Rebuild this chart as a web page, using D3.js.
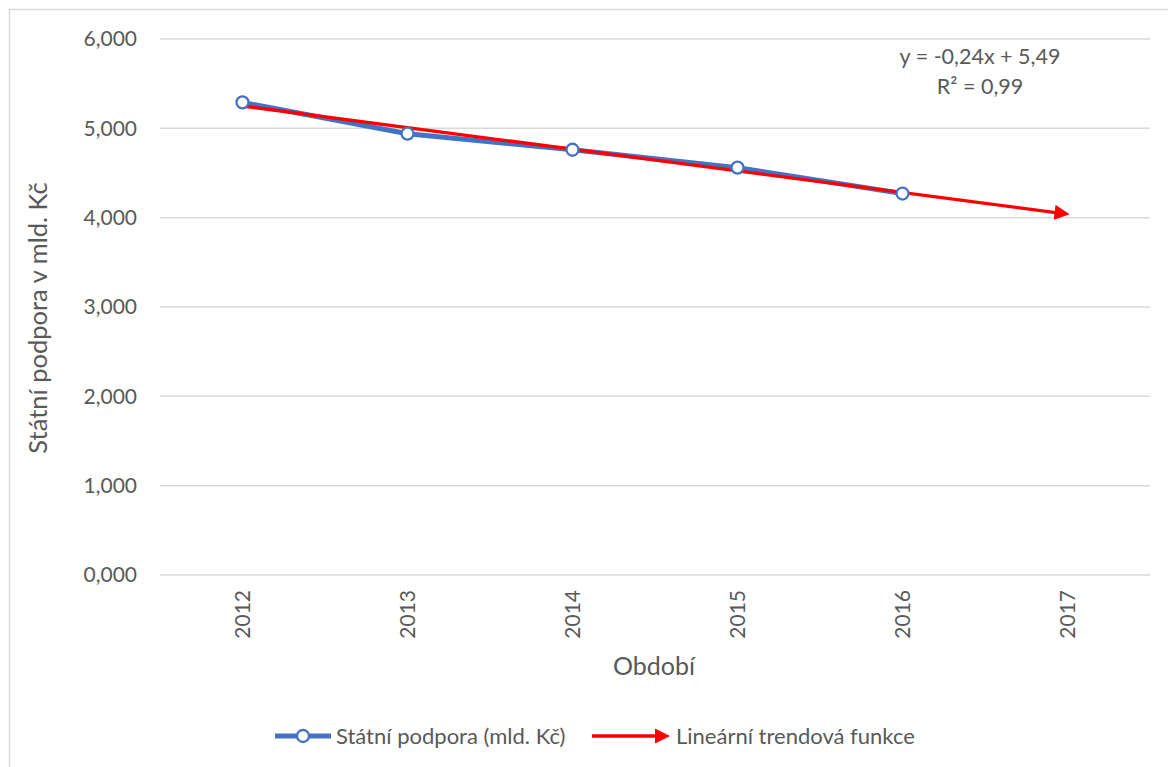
<!DOCTYPE html>
<html><head><meta charset="utf-8">
<script src="https://cdn.jsdelivr.net/npm/d3@7"></script>
<style>body{margin:0;background:#fff}svg{display:block}text{font-family:Lato,"Open Sans",sans-serif}</style>
</head><body>
<svg id="c" width="1168" height="767"></svg>
<script>
const categories = ["2012","2013","2014","2015","2016","2017"];
const dataYears = ["2012","2013","2014","2015","2016"];
const supportValues = [5.29, 4.94, 4.76, 4.56, 4.27];
const trendYears = ["2012","2017"];
const trendValues = [5.25, 4.04];
const yTicks = [0,1,2,3,4,5,6];
const seriesNames = ["Státní podpora (mld. Kč)", "Lineární trendová funkce"];
const equationLines = ["y = -0,24x + 5,49", "R² = 0,99"];

const svg = d3.select("#c");
const gray = "#595959";
svg.append("rect").attr("x",9.5).attr("y",9.5).attr("width",1300).attr("height",900)
  .attr("fill","none").attr("stroke","#d9d9d9").attr("stroke-width",1.5);

const L=160,R=1150,T=39,B=575;
const x = d3.scaleBand().domain(categories).range([L,R]);
const y = d3.scaleLinear().domain([0,6]).range([B,T]);
const fmt = v => d3.format(".3f")(v).replace(".",",");

// grid
svg.append("g").selectAll("line").data(yTicks).join("line")
  .attr("x1",L).attr("x2",R).attr("y1",d=>y(d)).attr("y2",d=>y(d))
  .attr("stroke","#d9d9d9").attr("stroke-width",1.5);

// y axis labels
const yAxis = d3.axisLeft(y).tickValues(yTicks).tickFormat(fmt).tickSize(0).tickPadding(23);
const ga = svg.append("g").attr("transform",`translate(${L},0)`).call(yAxis);
ga.select(".domain").remove();
ga.selectAll("text").attr("fill",gray).style("font-size","21px").style("font-family","Lato,sans-serif");

// x axis labels
const xAxis = d3.axisBottom(x).tickSize(0).tickPadding(0);
const gx = svg.append("g").attr("transform",`translate(0,${B})`).call(xAxis);
gx.select(".domain").remove();
gx.selectAll("text").attr("fill",gray).style("font-size","21px").style("font-family","Lato,sans-serif")
  .attr("transform","rotate(-90)").attr("text-anchor","end").attr("dy","0.35em")
  .attr("x",-15).attr("y",0);

// axis titles
svg.append("text").attr("transform","translate(38,318) rotate(-90)").attr("text-anchor","middle")
  .attr("dy","0.35em").attr("fill",gray).style("font-size","25.5px").text("Státní podpora v mld. Kč");
svg.append("text").attr("x",654).attr("y",666).attr("text-anchor","middle").attr("dy","0.35em")
  .attr("fill",gray).style("font-size","25px").text("Období");

const cx = d => x(d)+x.bandwidth()/2;
const blue="#4472C4", red="#FF0000";

// data line
svg.append("path").datum(dataYears.map((d,i)=>[d,supportValues[i]]))
  .attr("d",d3.line().x(d=>cx(d[0])).y(d=>y(d[1])))
  .attr("fill","none").attr("stroke",blue).attr("stroke-width",5).attr("stroke-linejoin","round");

// arrow marker
const defs = svg.append("defs");
defs.append("marker").attr("id","arr").attr("viewBox","0 0 10 10").attr("refX",2).attr("refY",5)
  .attr("markerWidth",4.6).attr("markerHeight",4.6).attr("markerUnits","strokeWidth").attr("orient","auto")
  .append("path").attr("d","M0,0L10,5L0,10Z").attr("fill",red);

// trend
const tPts = trendYears.map((d,i)=>[cx(d),y(trendValues[i])]);
const ang = Math.atan2(tPts[1][1]-tPts[0][1], tPts[1][0]-tPts[0][0]);
const shorten = 10;
svg.append("line").attr("x1",tPts[0][0]).attr("y1",tPts[0][1])
  .attr("x2",tPts[1][0]-shorten*Math.cos(ang)).attr("y2",tPts[1][1]-shorten*Math.sin(ang))
  .attr("stroke",red).attr("stroke-width",3.3).attr("marker-end","url(#arr)");

// markers
svg.append("g").selectAll("circle").data(dataYears.map((d,i)=>[d,supportValues[i]])).join("circle")
  .attr("cx",d=>cx(d[0])).attr("cy",d=>y(d[1])).attr("r",6)
  .attr("fill","#fff").attr("stroke",blue).attr("stroke-width",2.3);

// equation
svg.append("g").selectAll("text").data(equationLines).join("text")
  .attr("x",980).attr("y",(d,i)=>56+i*30).attr("dy","0.35em").attr("text-anchor","middle")
  .attr("fill",gray).style("font-size","21.5px").text(d=>d);

// legend
const lg = svg.append("g");
lg.append("line").attr("x1",275).attr("x2",331).attr("y1",736).attr("y2",736).attr("stroke",blue).attr("stroke-width",5);
lg.append("circle").attr("cx",303).attr("cy",736).attr("r",6).attr("fill","#fff").attr("stroke",blue).attr("stroke-width",2.3);
lg.append("text").attr("x",336).attr("y",736).attr("dy","0.35em").attr("fill",gray).style("font-size","22px").text(seriesNames[0]);
lg.append("line").attr("x1",592).attr("x2",658).attr("y1",736).attr("y2",736).attr("stroke",red).attr("stroke-width",3.3).attr("marker-end","url(#arr)");
lg.append("text").attr("x",676).attr("y",736).attr("dy","0.35em").attr("fill",gray).style("font-size","22px").text(seriesNames[1]);
</script>
</body></html>
